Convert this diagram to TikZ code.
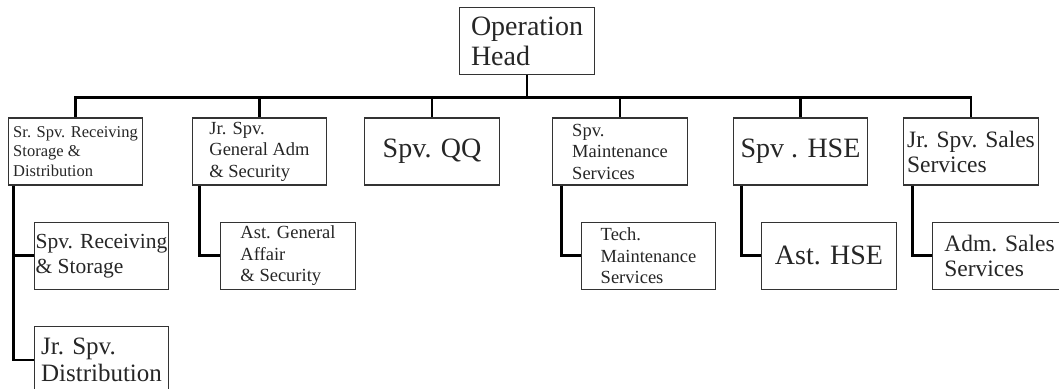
\documentclass[tikz,border=0pt]{standalone}
\usepackage{fontspec}
\setmainfont{Liberation Serif}
\usetikzlibrary{positioning}

\begin{document}
\begin{tikzpicture}[x=1pt,y=1pt,node distance=36pt,
        unit/.style={draw=black!80,line width=1.2pt,text=black!85,align=left,
            inner sep=1pt,minimum width=134.5pt,minimum height=67pt},
        link/.style={line width=2.8pt},
        huge font/.style={font=\fontsize{28}{30}\selectfont},
        large font/.style={font=\fontsize{25}{27}\selectfont},
        mid font/.style={font=\fontsize{23.5}{25}\selectfont},
        norm font/.style={font=\fontsize{21.5}{25}\selectfont},
        small font/.style={font=\fontsize{18.5}{21.5}\selectfont},
        tiny font/.style={font=\fontsize{16.5}{19.5}\selectfont}]

        % Page frame
        \clip (0,0) rectangle (1059,-388);
        \fill[white] (0,0) rectangle (1059,-388);

        % Define units
        \node[unit,huge font] (op) at (527,-41) {Operation\\Head};
        \node[unit,tiny font] (b1) at (75.5,-151.5) {Sr. Spv. Receiving\\Storage \&\\Distribution};
        \node[unit,small font] (b2) at (259.5,-151.5) {Jr. Spv.\\General Adm\\\& Security};
        \node[unit,huge font] (b3) at (432,-151.5) {Spv. QQ};
        \node[unit,small font] (b4) at (620,-151.5) {Spv.\\Maintenance\\Services};
        \node[unit,huge font] (b5) at (800.5,-151.5) {Spv . HSE};
        \node[unit,mid font] (b6) at (971,-151.5) {Jr. Spv. Sales\\Services};

        \node[unit,norm font] (c1a) [below=of b1,xshift=26pt] {Spv. Receiving\\\& Storage};
        \node[unit,large font] (c1b) [below=of c1a] {Jr. Spv.\\Distribution};
        \node[unit,small font] (c2) [below=of b2,xshift=28.5pt] {Ast. General\\Affair\\\& Security};
        \node[unit,small font] (c4) [below=of b4,xshift=28.5pt] {Tech.\\Maintenance\\Services};
        \node[unit,huge font] (c5) [below=of b5,xshift=28.5pt] {Ast. HSE};
        \node[unit,mid font] (c6) [below=of b6,xshift=28.5pt] {Adm. Sales\\Services};

        % Draw links
        \foreach \b in {b1,b2,b3,b4,b5,b6}
            \draw[link] (op.south) -- ++(0,-22) -| (\b.north);

        \draw[link] ([xshift=6pt]b1.south west) |- (c1a.west);
        \draw[link] ([xshift=6pt]b1.south west) |- (c1b.west);
        \draw[link] ([xshift=8pt]b2.south west) |- (c2.west);
        \draw[link] ([xshift=9pt]b4.south west) |- (c4.west);
        \draw[link] ([xshift=9pt]b5.south west) |- (c5.west);
        \draw[link] ([xshift=9pt]b6.south west) |- (c6.west);

\end{tikzpicture}
\end{document}
